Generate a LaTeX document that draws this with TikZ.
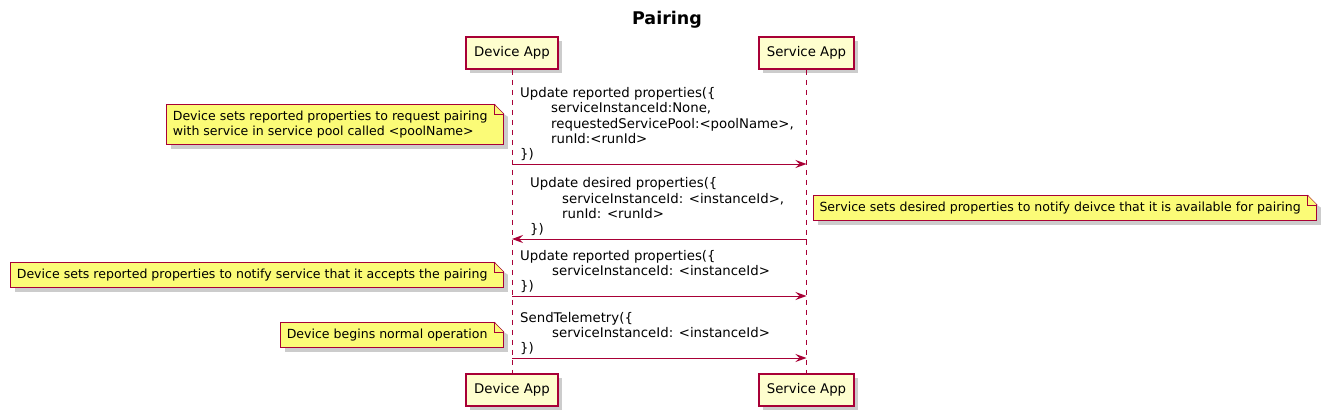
\documentclass[tikz,border=0pt]{standalone}
\usepackage{fontspec}
\setmainfont{DejaVu Sans}
\usetikzlibrary{arrows.meta,shadows}
\definecolor{umlred}{HTML}{A80036}
\definecolor{partfill}{HTML}{FEFECE}
\definecolor{notefill}{HTML}{FBFB77}
\tikzset{
  part/.style={draw=umlred, line width=1.5pt, fill=partfill, minimum height=32pt, inner xsep=8pt,
    drop shadow={shadow xshift=4pt, shadow yshift=-4pt, fill=black, opacity=0.2}},
  note/.style={draw=umlred, line width=1pt, fill=notefill, inner xsep=0pt, inner ysep=5pt, anchor=north east,
    font=\fontsize{12.55pt}{15pt}\selectfont,
    drop shadow={shadow xshift=4pt, shadow yshift=-4pt, fill=black, opacity=0.2}},
  msg/.style={align=left, inner sep=0pt, anchor=south west},
  life/.style={umlred, line width=1pt, dash pattern=on 5pt off 5pt},
  call/.style={umlred, line width=1pt, -{Stealth[length=11pt,width=8pt,inset=4pt]}},
}
\newcommand\notetxt[1]{\begin{tabular}{@{\hspace{6pt}}l@{\hspace{16pt}}}#1\end{tabular}}
\newcommand\fold[1]{%
  \fill[white] ([xshift=-10pt,yshift=1pt]#1.north east) -- ([xshift=6pt,yshift=1pt]#1.north east)
    -- ([xshift=6pt,yshift=-14pt]#1.north east) -- ([yshift=-10pt]#1.north east) -- cycle;
  \draw[umlred] ([xshift=-10pt]#1.north east) -- ([yshift=-10pt]#1.north east) ;
  \draw[umlred] ([xshift=-10pt]#1.north east) |- ([yshift=-10pt]#1.north east) ;}
\begin{document}
\begin{tikzpicture}[x=1pt, y=-1pt, font=\fontsize{13.3pt}{15.3pt}\selectfont]
\useasboundingbox[fill=white] (0,0) rectangle (1328,415);
\node[font=\bfseries\fontsize{17.5pt}{20pt}\selectfont] (title) at (667,20) {Pairing};
% participants
\node[part] (devtop) at (512,53) {Device App};
\node[part] (svctop) at (806.5,53) {Service App};
\node[part] (devbot) at (512,390) {Device App};
\node[part] (svcbot) at (806.5,390) {Service App};
\draw[life] (devtop) -- (devbot);
\draw[life] (svctop) -- (svcbot);
\foreach \n/\y in {a/164, b/239, c/296, d/358} {
  \coordinate (dev\n) at (512,\y);
  \coordinate (svc\n) at (806.5,\y);
}
% messages
\draw[call] (deva) -- (svca);
\node[msg] (msga) at (520,161) {Update reported properties(\{\\
  \hspace*{31pt}serviceInstanceId:None,\\
  \hspace*{31pt}requestedServicePool:<poolName>,\\
  \hspace*{31pt}runId:<runId>\\
  \})};
\draw[call] (svcb) -- (devb);
\node[msg] (msgb) at (530,236) {Update desired properties(\{\\
  \hspace*{32pt}serviceInstanceId: <instanceId>,\\
  \hspace*{32pt}runId: <runId>\\
  \})};
\draw[call] (devc) -- (svcc);
\node[msg] (msgc) at (520,293) {Update reported properties(\{\\
  \hspace*{32pt}serviceInstanceId: <instanceId>\\
  \})};
\draw[call] (devd) -- (svcd);
\node[msg] (msgd) at (520,355) {SendTelemetry(\{\\
  \hspace*{32pt}serviceInstanceId: <instanceId>\\
  \})};
% notes
\node[note] (note1) at (504,104) {\notetxt{Device sets reported properties to request pairing\\with service in service pool called <poolName>}};
\node[note, anchor=north west] (note2) at (813,195) {\notetxt{Service sets desired properties to notify deivce that it is available for pairing}};
\node[note] (note3) at (504,262) {\notetxt{Device sets reported properties to notify service that it accepts the pairing}};
\node[note] (note4) at (504,322) {\notetxt{Device begins normal operation}};
\foreach \n in {note1,note2,note3,note4} \fold{\n};
\end{tikzpicture}
\end{document}
